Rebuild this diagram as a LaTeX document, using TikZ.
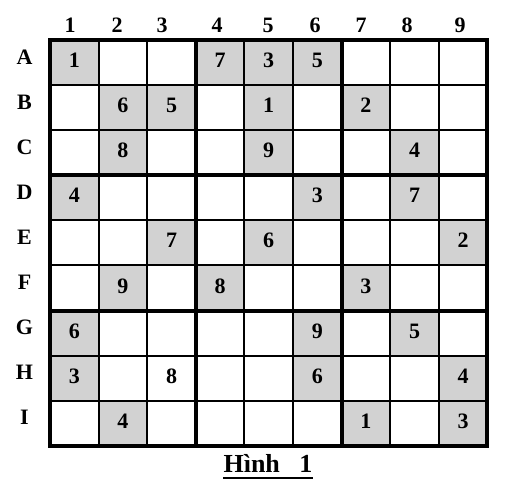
\documentclass[tikz,border=0pt]{standalone}
\usepackage{fontspec}
\setmainfont{Liberation Serif}
\usepackage{tikz}

\begin{document}
\begin{tikzpicture}[x=1pt, y=-1pt,
    label/.style={font=\fontsize{22}{22}\selectfont\bfseries, anchor=base, inner sep=0pt},
    given/.style={fill=gray!35}]
  \useasboundingbox (0,0) rectangle (515,502);
  % shaded cells (row/col)
  \foreach \r/\c in {1/1,1/4,1/5,1/6,2/2,2/3,2/5,2/7,3/2,3/5,3/8,4/1,4/6,4/8,5/3,5/5,5/9,6/2,6/4,6/7,7/1,7/6,7/8,8/1,8/6,8/9,9/2,9/7,9/9}
    \fill[given] ({50+48.6*(\c-1)+1}, {40+45.1*(\r-1)+1}) rectangle ({50+48.6*\c-1}, {40+45.1*\r-1});
  % grid
  \foreach \i in {0,...,9} {
    \draw[line width=2pt] ({50+48.6*\i}, 40) -- ({50+48.6*\i}, 446);
    \draw[line width=2pt] (50, {40+45.1*\i}) -- (487.4, {40+45.1*\i});
  }
  \foreach \i in {0,3,6,9} {
    \draw[line width=4pt] ({50+48.6*\i}, 40) -- ({50+48.6*\i}, 446);
    \draw[line width=4pt, line cap=rect] (50, {40+45.1*\i}) -- (487.4, {40+45.1*\i});
  }
  % labels
  \foreach \x [count=\c] in {70,117,162,217,268,315,361,407,460}
    \node[label] (col\c) at (\x, 33) {\c};
  \foreach \l [count=\r] in {A,B,C,D,E,F,G,H,I}
    \node[label] (row\l) at (24.5, {40+45.1*(\r-0.5)+1.5}) {\l};
  % given numbers
  \foreach \r/\c/\v in {1/1/1,1/4/7,1/5/3,1/6/5,2/2/6,2/3/5,2/5/1,2/7/2,3/2/8,3/5/9,3/8/4,4/1/4,4/6/3,4/8/7,5/3/7,5/5/6,5/9/2,6/2/9,6/4/8,6/7/3,7/1/6,7/6/9,7/8/5,8/1/3,8/3/8,8/6/6,8/9/4,9/2/4,9/7/1,9/9/3}
    \node[label] (cell\r\c) at ({50+48.6*(\c-0.5)}, {40+45.1*(\r-0.5)+5}) {\v};
  % caption
  \node[label, font=\fontsize{26}{26}\selectfont\bfseries] (caption) at (268, 473) {Hình\ \ \ 1};
  \draw[line width=2pt] ([yshift=-5pt]caption.base west) -- ([yshift=-5pt]caption.base east);
\end{tikzpicture}
\end{document}
